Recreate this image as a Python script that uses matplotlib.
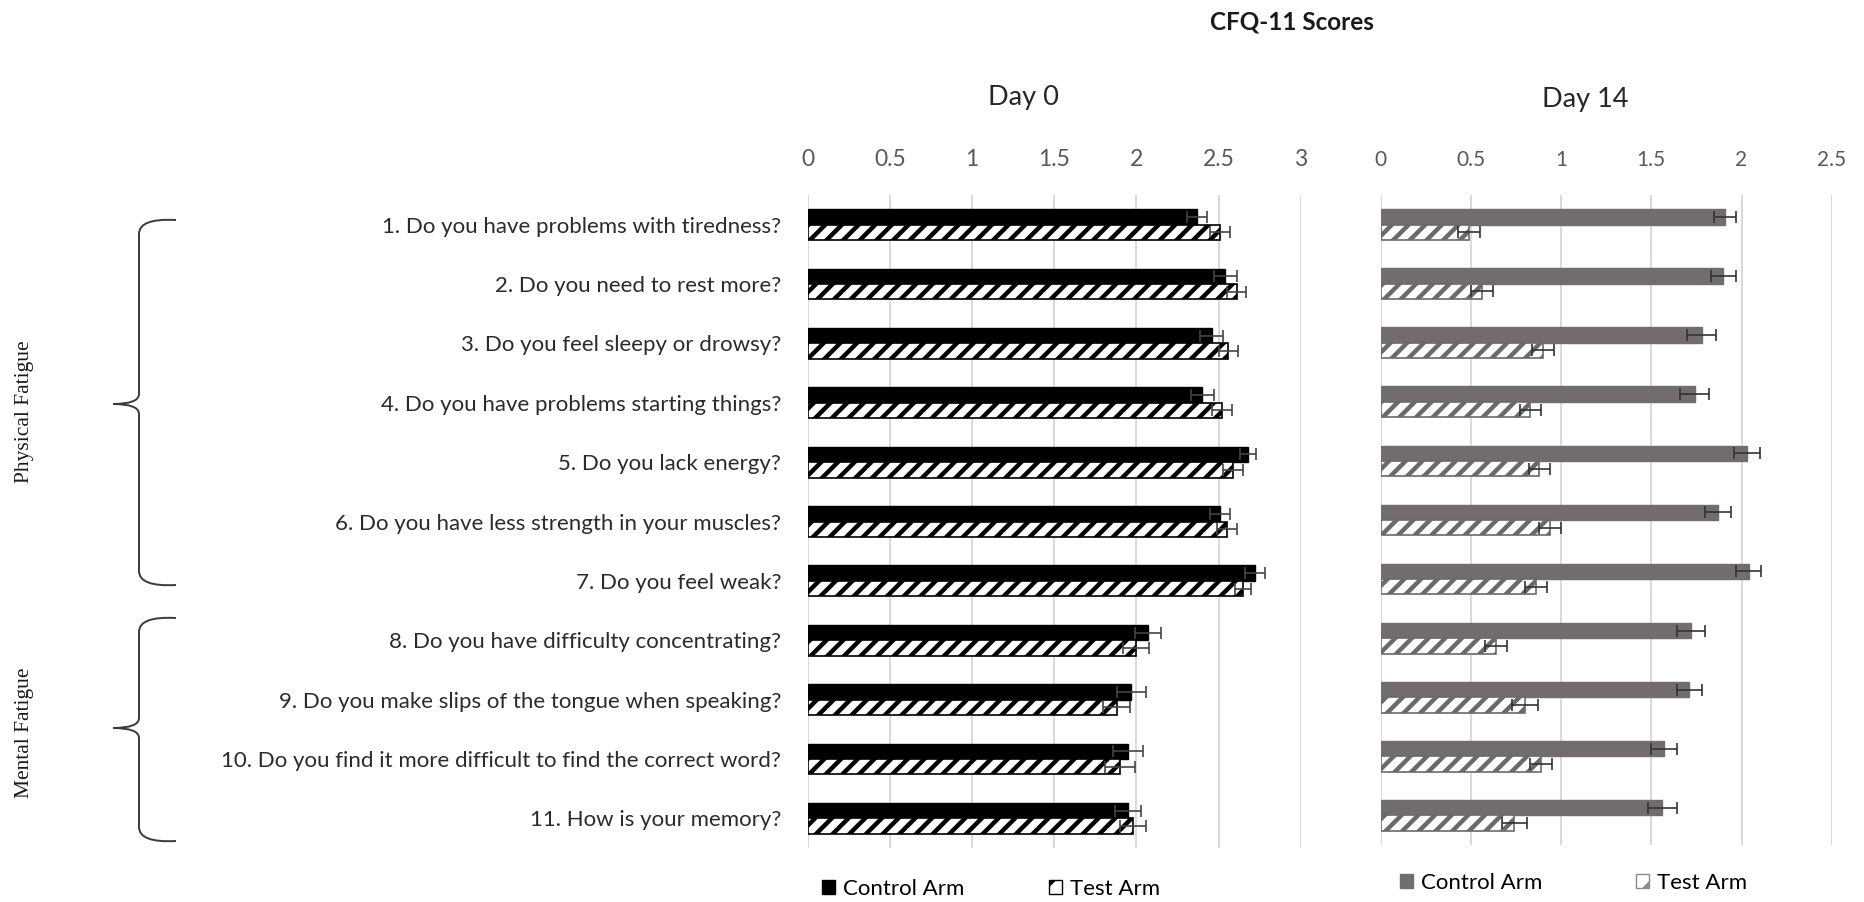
import numpy as np
import matplotlib
matplotlib.use("Agg")
import matplotlib.pyplot as plt
from matplotlib.patches import Patch, PathPatch
from matplotlib.path import Path

plt.rcParams["font.family"] = ["Lato", "DejaVu Sans"]
plt.rcParams["hatch.linewidth"] = 3.2

questions = [
    "1. Do you have problems with tiredness?",
    "2. Do you need to rest more?",
    "3. Do you feel sleepy or drowsy?",
    "4. Do you have problems starting things?",
    "5. Do you lack energy?",
    "6. Do you have less strength in your muscles?",
    "7. Do you feel weak?",
    "8. Do you have difficulty concentrating?",
    "9. Do you make slips of the tongue when speaking?",
    "10. Do you find it more difficult to find the correct word?",
    "11. How is your memory?",
]

# Day 0 means and SE
d0_control = [2.37, 2.54, 2.46, 2.40, 2.68, 2.51, 2.72, 2.07, 1.97, 1.95, 1.95]
d0_control_err = [0.06, 0.07, 0.07, 0.07, 0.05, 0.06, 0.06, 0.08, 0.09, 0.09, 0.08]
d0_test = [2.51, 2.61, 2.56, 2.52, 2.59, 2.55, 2.65, 2.00, 1.88, 1.90, 1.98]
d0_test_err = [0.06, 0.06, 0.06, 0.06, 0.06, 0.06, 0.05, 0.08, 0.08, 0.09, 0.08]

# Day 14 means and SE
d14_control = [1.91, 1.90, 1.78, 1.74, 2.03, 1.87, 2.04, 1.72, 1.71, 1.57, 1.56]
d14_control_err = [0.06, 0.07, 0.08, 0.08, 0.07, 0.07, 0.07, 0.08, 0.07, 0.07, 0.08]
d14_test = [0.49, 0.56, 0.90, 0.83, 0.88, 0.94, 0.86, 0.64, 0.80, 0.89, 0.74]
d14_test_err = [0.06, 0.06, 0.06, 0.06, 0.06, 0.06, 0.06, 0.06, 0.07, 0.06, 0.07]

d0_ticks = [0, 0.5, 1, 1.5, 2, 2.5, 3]
d14_ticks = [0, 0.5, 1, 1.5, 2, 2.5]

W, H = 1864, 902
fig = plt.figure(figsize=(W / 100, H / 100), dpi=100)


def fx(px):
    return px / W


def fy(py):
    return 1 - py / H


ax0 = fig.add_axes([fx(807.6), fy(848), fx(1300.7 - 807.6), (848 - 195) / H])
ax1 = fig.add_axes([fx(1380.7), fy(845), fx(1831.7 - 1380.7), (845 - 195) / H])

y = np.arange(len(questions))
bh = 0.26
gray = "#726c6d"


def style_axis(ax, ticks, tick_size):
    ax.set_xlim(ticks[0], ticks[-1])
    ax.set_ylim(len(questions) - 0.5, -0.5)
    ax.set_xticks(ticks)
    ax.set_xticklabels([f"{t:g}" for t in ticks])
    ax.xaxis.tick_top()
    ax.tick_params(axis="x", length=0, pad=18, labelsize=tick_size, labelcolor="#595959")
    ax.grid(axis="x", color="#d9d9d9", linewidth=1.4)
    ax.set_axisbelow(True)
    for s in ax.spines.values():
        s.set_visible(False)


# Day 0
ax0.barh(y - bh / 2, d0_control, height=bh, color="black", edgecolor="black", linewidth=1)
ax0.barh(y + bh / 2, d0_test, height=bh, color="white", edgecolor="black", hatch="//", linewidth=1.2)
ax0.errorbar(d0_control, y - bh / 2, xerr=d0_control_err, fmt="none", ecolor="#444444",
             elinewidth=1.2, capsize=4, capthick=1.2)
ax0.errorbar(d0_test, y + bh / 2, xerr=d0_test_err, fmt="none", ecolor="#444444",
             elinewidth=1.2, capsize=4, capthick=1.2)
style_axis(ax0, d0_ticks, 16.5)
ax0.set_yticks(y)
ax0.set_yticklabels(questions, fontsize=16, color="#2b2b2b")
ax0.tick_params(axis="y", length=0, pad=19)

# Day 14
ax1.barh(y - bh / 2, d14_control, height=bh, color=gray, edgecolor=gray, linewidth=1)
ax1.barh(y + bh / 2, d14_test, height=bh, color="white", edgecolor="#6a6a6a", hatch="//", linewidth=1.2)
ax1.errorbar(d14_control, y - bh / 2, xerr=d14_control_err, fmt="none", ecolor="#333333",
             elinewidth=1.2, capsize=4, capthick=1.2)
ax1.errorbar(d14_test, y + bh / 2, xerr=d14_test_err, fmt="none", ecolor="#333333",
             elinewidth=1.2, capsize=4, capthick=1.2)
style_axis(ax1, d14_ticks, 15)
ax1.set_yticks([])

# titles
fig.text(fx(1292), fy(22), "CFQ-11 Scores", fontsize=17.5, fontweight="bold",
         ha="center", va="center", color="#1a1a1a")
fig.text(fx(1023), fy(97), "Day 0", fontsize=19.5, ha="center", va="center", color="#262626")
fig.text(fx(1585), fy(100), "Day 14", fontsize=19.5, ha="center", va="center", color="#262626")

# legends
leg0 = [Patch(facecolor="black", edgecolor="black", label="Control Arm"),
        Patch(facecolor="white", edgecolor="black", hatch="/", label="Test Arm")]
fig.legend(handles=leg0, loc="center left", bbox_to_anchor=(fx(822), fy(889)), ncol=2,
           frameon=False, fontsize=16, handlelength=0.6, handleheight=0.6,
           handletextpad=0.35, columnspacing=3.8, borderpad=0, borderaxespad=0)
leg1 = [Patch(facecolor=gray, edgecolor=gray, label="Control Arm"),
        Patch(facecolor="white", edgecolor="#8a8a8a", hatch="/", label="Test Arm")]
fig.legend(handles=leg1, loc="center left", bbox_to_anchor=(fx(1400), fy(883)), ncol=2,
           frameon=False, fontsize=16, handlelength=0.6, handleheight=0.6,
           handletextpad=0.35, columnspacing=4.2, borderpad=0, borderaxespad=0)


# curly braces for the question groups
def brace(top, bottom, tip, tip_x=113, vert_x=139, end_x=176, r=14, t=10):
    pts = [
        (end_x, top), (vert_x, top - 2), (vert_x, top + r),
        (vert_x, tip - t),
        (vert_x, tip), (tip_x, tip),
        (vert_x, tip), (vert_x, tip + t),
        (vert_x, bottom - r),
        (vert_x, bottom + 2), (end_x, bottom),
    ]
    codes = [Path.MOVETO, Path.CURVE3, Path.CURVE3, Path.LINETO,
             Path.CURVE3, Path.CURVE3, Path.CURVE3, Path.CURVE3,
             Path.LINETO, Path.CURVE3, Path.CURVE3]
    verts = [(fx(px), fy(py)) for px, py in pts]
    fig.add_artist(PathPatch(Path(verts, codes), transform=fig.transFigure,
                             facecolor="none", edgecolor="#3a3a3a", linewidth=1.4))


brace(220, 585, 404)
brace(618, 841, 728)

fig.text(fx(24), fy(412), "Physical Fatigue", rotation=90, fontsize=15.5,
         family="Liberation Serif", ha="center", va="center", color="#1a1a1a")
fig.text(fx(24), fy(733), "Mental Fatigue", rotation=90, fontsize=15.5,
         family="Liberation Serif", ha="center", va="center", color="#1a1a1a")

fig.savefig("out.png", dpi=100, facecolor="white")
